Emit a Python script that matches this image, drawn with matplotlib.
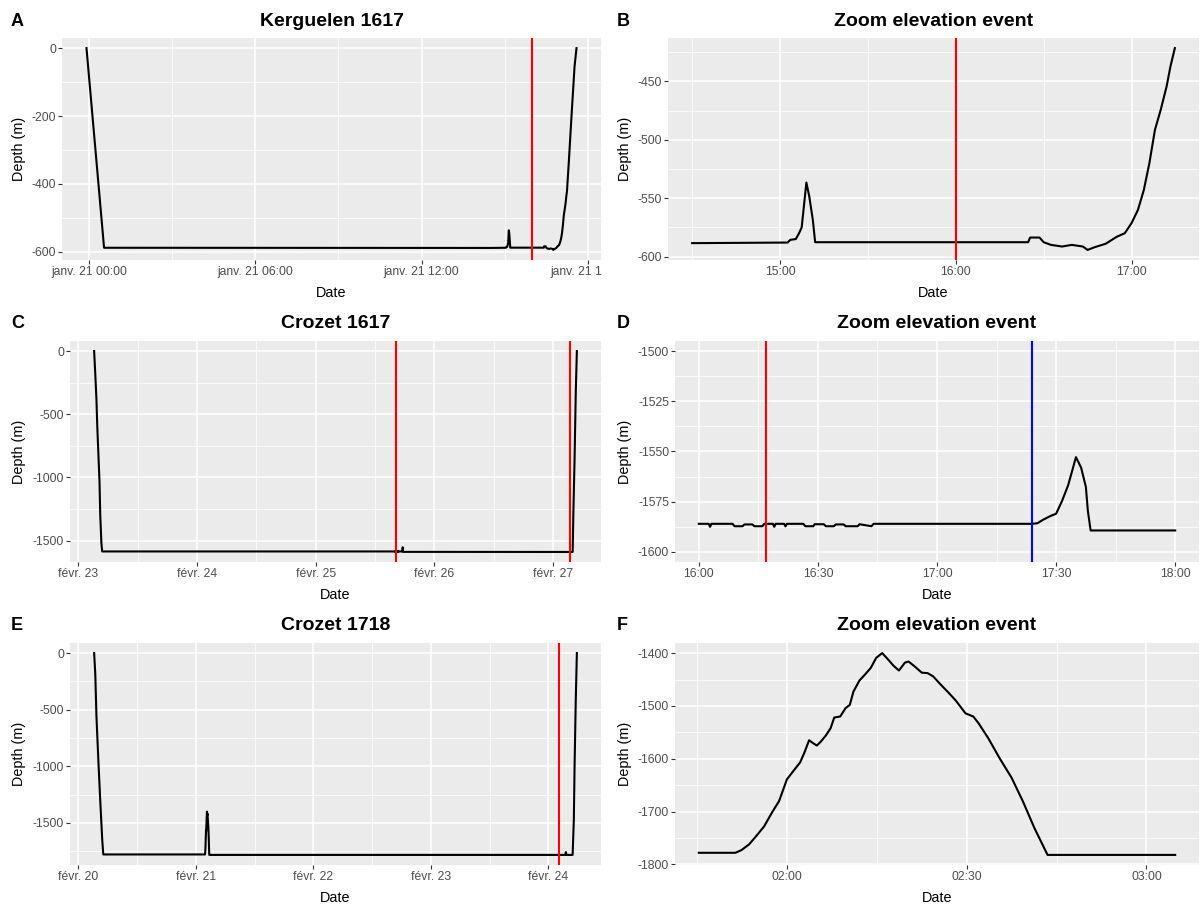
import numpy as np
import pandas as pd
import matplotlib
matplotlib.use("Agg")
import matplotlib.pyplot as plt
import matplotlib.dates as mdates
from matplotlib.ticker import MultipleLocator
from matplotlib.transforms import Bbox, TransformedBbox

plt.rcParams["font.family"] = ["Liberation Sans", "DejaVu Sans"]
plt.rcParams["axes.unicode_minus"] = False

# ---- Kerguelen 1617 dive trace
ker_time = ["2017-01-20 23:55", "2017-01-21 00:33", "2017-01-21 14:30",
            "2017-01-21 15:02:36", "2017-01-21 15:03:30", "2017-01-21 15:05:24",
            "2017-01-21 15:06:30", "2017-01-21 15:07:24", "2017-01-21 15:09:00",
            "2017-01-21 15:10:00", "2017-01-21 15:11:12", "2017-01-21 15:12:00",
            "2017-01-21 16:24:42", "2017-01-21 16:25:24", "2017-01-21 16:28:36",
            "2017-01-21 16:30:00", "2017-01-21 16:32:30", "2017-01-21 16:36:18",
            "2017-01-21 16:39:36", "2017-01-21 16:43:24", "2017-01-21 16:45:00",
            "2017-01-21 16:47:24", "2017-01-21 16:51:12", "2017-01-21 16:55:00",
            "2017-01-21 16:57:42", "2017-01-21 17:00:00", "2017-01-21 17:02:12",
            "2017-01-21 17:04:12", "2017-01-21 17:06:06", "2017-01-21 17:08:00",
            "2017-01-21 17:10:00", "2017-01-21 17:12:00", "2017-01-21 17:13:18",
            "2017-01-21 17:14:48", "2017-01-21 17:19:00", "2017-01-21 17:24:36",
            "2017-01-21 17:31:12", "2017-01-21 17:35:24"]
ker_depth = [0, -588, -588.5, -588, -585.7, -585, -580, -575, -536.6, -548.6,
             -568.6, -587.7, -587.7, -583.7, -583.7, -587.7, -590, -591.4, -590,
             -591.4, -594.3, -592, -589, -583, -580, -571.4, -560, -543, -520,
             -491.4, -474, -454, -437, -421.4, -330, -200, -54, 0]
ker_red = ["2017-01-21 16:00"]
ker_zoom = ("2017-01-21 14:30", "2017-01-21 17:15")

# ---- Crozet 1617 dive trace
cro17_time = ["2017-02-23 03:14", "2017-02-23 03:29", "2017-02-23 03:42",
              "2017-02-23 03:52", "2017-02-23 04:05", "2017-02-23 04:19",
              "2017-02-23 04:28", "2017-02-23 04:42", "2017-02-23 04:52",
              "2017-02-25 16:00:00", "2017-02-25 16:02:30", "2017-02-25 16:02:50",
              "2017-02-25 16:03:10", "2017-02-25 16:08:30", "2017-02-25 16:09:00",
              "2017-02-25 16:11:00", "2017-02-25 16:11:30", "2017-02-25 16:13:30",
              "2017-02-25 16:14:00", "2017-02-25 16:16:00", "2017-02-25 16:16:30",
              "2017-02-25 16:18:40", "2017-02-25 16:19:00", "2017-02-25 16:19:20",
              "2017-02-25 16:21:30", "2017-02-25 16:21:50", "2017-02-25 16:22:10",
              "2017-02-25 16:26:20", "2017-02-25 16:26:50", "2017-02-25 16:28:50",
              "2017-02-25 16:29:10", "2017-02-25 16:31:30", "2017-02-25 16:32:00",
              "2017-02-25 16:34:00", "2017-02-25 16:34:30", "2017-02-25 16:36:30",
              "2017-02-25 16:37:00", "2017-02-25 16:40:00", "2017-02-25 16:40:30",
              "2017-02-25 16:43:30", "2017-02-25 16:44:00",
              "2017-02-25 17:24:00", "2017-02-25 17:25:18", "2017-02-25 17:26:42",
              "2017-02-25 17:28:42", "2017-02-25 17:30:00", "2017-02-25 17:31:30",
              "2017-02-25 17:33:00", "2017-02-25 17:34:00", "2017-02-25 17:35:00",
              "2017-02-25 17:36:18", "2017-02-25 17:37:30", "2017-02-25 17:38:00",
              "2017-02-25 17:38:42", "2017-02-25 18:00:00",
              "2017-02-27 03:56", "2017-02-27 04:05", "2017-02-27 04:19",
              "2017-02-27 04:34", "2017-02-27 04:47"]
cro17_depth = [0, -198, -384, -595, -807, -1032, -1296, -1521, -1586,
               -1586, -1586, -1587.5, -1586, -1586, -1587.2, -1587.2, -1586.3,
               -1586.3, -1587.2, -1587.2, -1586, -1586, -1587.5, -1586,
               -1586, -1587.3, -1586, -1586, -1587.2, -1587.2, -1586.2,
               -1586.2, -1587.2, -1587.2, -1586.3, -1586.3, -1587.2, -1587.2,
               -1586.2, -1587.2, -1586,
               -1586, -1585.7, -1584, -1582, -1581, -1574.6, -1567, -1560,
               -1552.8, -1558, -1567.6, -1579.5, -1589.3, -1589.3,
               -1590, -1270, -860, -317, 0]
cro17_red = ["2017-02-25 16:17", "2017-02-27 03:23"]
cro17_blue = ["2017-02-25 17:24"]
cro17_zoom = ("2017-02-25 16:00", "2017-02-25 18:00")

# ---- Crozet 1718 dive trace
cro18_time = ["2018-02-20 03:12", "2018-02-20 03:26", "2018-02-20 03:40",
              "2018-02-20 04:03", "2018-02-20 04:26", "2018-02-20 04:51",
              "2018-02-20 05:04",
              "2018-02-21 01:45:18", "2018-02-21 01:51:24", "2018-02-21 01:52:24",
              "2018-02-21 01:53:42", "2018-02-21 01:54:54", "2018-02-21 01:56:12",
              "2018-02-21 01:57:30", "2018-02-21 01:58:42", "2018-02-21 02:00:00",
              "2018-02-21 02:01:18", "2018-02-21 02:02:12", "2018-02-21 02:02:54",
              "2018-02-21 02:03:42", "2018-02-21 02:04:18", "2018-02-21 02:05:00",
              "2018-02-21 02:05:42", "2018-02-21 02:06:30", "2018-02-21 02:07:18",
              "2018-02-21 02:07:54", "2018-02-21 02:08:54", "2018-02-21 02:09:48",
              "2018-02-21 02:10:30", "2018-02-21 02:11:06", "2018-02-21 02:12:06",
              "2018-02-21 02:13:00", "2018-02-21 02:14:00", "2018-02-21 02:14:54",
              "2018-02-21 02:15:54", "2018-02-21 02:16:48", "2018-02-21 02:17:48",
              "2018-02-21 02:18:42", "2018-02-21 02:19:42", "2018-02-21 02:20:18",
              "2018-02-21 02:21:18", "2018-02-21 02:22:30", "2018-02-21 02:23:30",
              "2018-02-21 02:24:24", "2018-02-21 02:25:42", "2018-02-21 02:26:54",
              "2018-02-21 02:28:12", "2018-02-21 02:29:48", "2018-02-21 02:31:06",
              "2018-02-21 02:32:00", "2018-02-21 02:33:36", "2018-02-21 02:35:30",
              "2018-02-21 02:37:30", "2018-02-21 02:39:24", "2018-02-21 02:41:18",
              "2018-02-21 02:43:30", "2018-02-21 03:04:48",
              "2018-02-24 03:29", "2018-02-24 03:36", "2018-02-24 03:43",
              "2018-02-24 04:59", "2018-02-24 05:14", "2018-02-24 05:23",
              "2018-02-24 05:37", "2018-02-24 05:51"]
cro18_depth = [0, -183, -552, -936, -1290, -1645, -1778,
               -1778, -1778, -1773, -1762, -1746, -1728, -1702, -1680, -1639,
               -1620, -1607, -1589, -1565, -1570, -1575, -1567, -1556, -1542,
               -1522, -1520, -1504, -1498, -1473, -1452, -1441, -1428, -1409,
               -1400, -1411, -1424, -1433, -1418, -1416, -1425, -1437, -1438,
               -1444, -1460, -1474, -1490, -1514, -1520, -1533, -1561, -1599,
               -1636, -1681, -1731, -1782, -1782,
               -1782, -1757, -1782, -1782, -1467, -995, -434, 0]
cro18_red = ["2018-02-24 02:07"]
cro18_zoom = ("2018-02-21 01:45", "2018-02-21 03:05")

# ---- axis breaks
ker_ticks = ["2017-01-21 00:00", "2017-01-21 06:00", "2017-01-21 12:00", "2017-01-21 18:00"]
ker_labels = ["janv. 21 00:00", "janv. 21 06:00", "janv. 21 12:00", "janv. 21 18:00"]
kerz_ticks = ["2017-01-21 15:00", "2017-01-21 16:00", "2017-01-21 17:00"]
kerz_labels = ["15:00", "16:00", "17:00"]
cro17_ticks = ["2017-02-23 00:00", "2017-02-24 00:00", "2017-02-25 00:00",
               "2017-02-26 00:00", "2017-02-27 00:00"]
cro17_labels = ["févr. 23", "févr. 24", "févr. 25", "févr. 26", "févr. 27"]
cro17z_ticks = ["2017-02-25 16:00", "2017-02-25 16:30", "2017-02-25 17:00",
                "2017-02-25 17:30", "2017-02-25 18:00"]
cro17z_labels = ["16:00", "16:30", "17:00", "17:30", "18:00"]
cro18_ticks = ["2018-02-20 00:00", "2018-02-21 00:00", "2018-02-22 00:00",
               "2018-02-23 00:00", "2018-02-24 00:00"]
cro18_labels = ["févr. 20", "févr. 21", "févr. 22", "févr. 23", "févr. 24"]
cro18z_ticks = ["2018-02-21 02:00", "2018-02-21 02:30", "2018-02-21 03:00"]
cro18z_labels = ["02:00", "02:30", "03:00"]

W, H = 1204, 907
fig = plt.figure(figsize=(W / 100, H / 100), dpi=100)


def to_dt(strings):
    return pd.to_datetime(pd.Series(list(strings)), format="ISO8601").to_numpy()


def add_panel(left, right, top, bottom):
    return fig.add_axes([left / W, 1 - bottom / H, (right - left) / W, (bottom - top) / H])


def draw_panel(ax, times, depth, ticks, labels, ystep, window=None,
               red=(), blue=(), ylim=None):
    t = to_dt(times)
    d = np.array(depth, dtype=float)
    red = to_dt(red) if red else np.array([], dtype="datetime64[ns]")
    blue = to_dt(blue) if blue else np.array([], dtype="datetime64[ns]")
    if window is not None:
        lo, hi = to_dt(window)
        keep = (t >= lo) & (t <= hi)
        t, d = t[keep], d[keep]
        red = red[(red >= lo) & (red <= hi)]
        blue = blue[(blue >= lo) & (blue <= hi)]
    ax.set_facecolor("#EBEBEB")
    ax.plot(t, d, color="black", lw=1.5, zorder=3, solid_joinstyle="round")
    for v in red:
        ax.axvline(v, color="#FF0000", lw=1.5, zorder=4)
    for v in blue:
        ax.axvline(v, color="#0000FF", lw=1.5, zorder=4)
    ax.margins(x=0.05, y=0.05)
    xl = ax.get_xlim()
    yl = ylim if ylim is not None else ax.get_ylim()

    major = mdates.date2num(to_dt(ticks))
    step = major[1] - major[0]
    minor = np.concatenate([[major[0] - step / 2], (major[:-1] + major[1:]) / 2,
                            [major[-1] + step / 2]])
    ax.set_xticks(major)
    ax.set_xticklabels(labels)
    ax.set_xticks(minor, minor=True)
    ax.yaxis.set_major_locator(MultipleLocator(ystep))
    ax.yaxis.set_minor_locator(MultipleLocator(ystep / 2))
    ax.set_xlim(xl)
    ax.set_ylim(yl)

    ax.grid(which="major", color="white", lw=1.1, zorder=0)
    ax.grid(which="minor", color="white", lw=0.55, zorder=0)
    ax.set_axisbelow(True)
    for s in ax.spines.values():
        s.set_visible(False)
    ax.tick_params(which="major", length=2.6, width=0.8, color="#333333",
                   labelsize=8.7, labelcolor="#4D4D4D", pad=1.6)
    ax.tick_params(which="minor", length=0)
    ax.set_xlabel("Date", fontsize=10.4, va="center")
    ax.set_ylabel("Depth (m)", fontsize=10.4, va="center")


boxes = {
    "A": (62, 601, 38, 260), "B": (668, 1199, 38, 260),
    "C": (70, 601, 341, 562), "D": (675, 1199, 341, 562),
    "E": (70, 601, 643, 865), "F": (675, 1199, 643, 865),
}
titles = {"A": "Kerguelen 1617", "B": "Zoom elevation event",
          "C": "Crozet 1617", "D": "Zoom elevation event",
          "E": "Crozet 1718", "F": "Zoom elevation event"}
axes = {k: add_panel(*v) for k, v in boxes.items()}

draw_panel(axes["A"], ker_time, ker_depth, ker_ticks, ker_labels, 200, red=ker_red)
draw_panel(axes["B"], ker_time, ker_depth, kerz_ticks, kerz_labels, 50,
           window=ker_zoom, red=ker_red)
draw_panel(axes["C"], cro17_time, cro17_depth, cro17_ticks, cro17_labels, 500, red=cro17_red)
draw_panel(axes["D"], cro17_time, cro17_depth, cro17z_ticks, cro17z_labels, 25,
           window=cro17_zoom, red=cro17_red, blue=cro17_blue, ylim=(-1605, -1495))
draw_panel(axes["E"], cro18_time, cro18_depth, cro18_ticks, cro18_labels, 500, red=cro18_red)
draw_panel(axes["F"], cro18_time, cro18_depth, cro18z_ticks, cro18z_labels, 100,
           window=cro18_zoom)

# titles, tags and axis-title placement
half = TransformedBbox(Bbox([[0, 0], [0.5, 1]]), fig.transFigure)
for key, ax in axes.items():
    left, right, top, bottom = boxes[key]
    wpx, hpx = right - left, bottom - top
    right_col = left > W / 2
    fig.text((left + right) / 2 / W, 1 - (top - 17) / H, titles[key],
             ha="center", va="center", fontsize=14, fontweight="bold")
    tag_x = 617 if right_col else 11
    fig.text(tag_x / W, 1 - (top - 17) / H, key, ha="left", va="center",
             fontsize=13, fontweight="bold")
    ax.xaxis.set_label_coords(0.5, -33 / hpx)
    ylab_x = 625 if right_col else 19
    ax.yaxis.set_label_coords((ylab_x - left) / wpx, 0.5)
    if not right_col:
        for lab in ax.get_xticklabels():
            lab.set_clip_box(half)
            lab.set_clip_on(True)

fig.savefig("out.png", dpi=100, facecolor="white")
